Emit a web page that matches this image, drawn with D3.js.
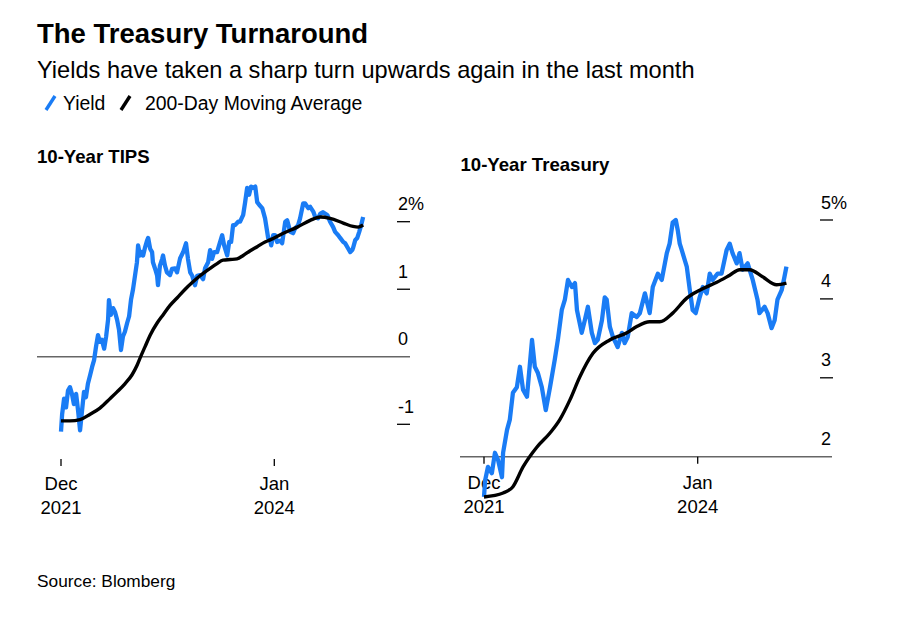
<!DOCTYPE html>
<html><head><meta charset="utf-8">
<script src="https://cdn.jsdelivr.net/npm/d3@7"></script>
<style>
body{margin:0;background:#fff;}
text{font-family:"Liberation Sans",Arial,Helvetica,sans-serif;fill:#000;}
</style></head><body>
<svg id="c" width="900" height="617"></svg>
<script>
// ---------- DATA ----------
const chartTitle = "The Treasury Turnaround";
const chartSubtitle = "Yields have taken a sharp turn upwards again in the last month";
const legendLabels = ["Yield", "200-Day Moving Average"];
const sourceText = "Source: Blomberg";
const panelTitles = ["10-Year TIPS", "10-Year Treasury"];
const xTickDates = ["2021-12-01", "2024-01-01"];
const xTickLabels = [["Dec", "2021"], ["Jan", "2024"]];
const tipsTicks = [-1, 0, 1, 2];
const tsyTicks = [2, 3, 4, 5];

const tipsDates = ["2021-12-01","2021-12-05","2021-12-12","2021-12-19","2021-12-26","2022-01-02","2022-01-09","2022-01-16","2022-01-24","2022-01-31","2022-02-07","2022-02-14","2022-02-21","2022-02-28","2022-03-07","2022-03-15","2022-03-22","2022-03-29","2022-04-05","2022-04-12","2022-04-19","2022-04-26","2022-05-04","2022-05-11","2022-05-18","2022-05-21","2022-05-28","2022-06-05","2022-06-12","2022-06-19","2022-06-26","2022-07-03","2022-07-10","2022-07-17","2022-07-25","2022-08-01","2022-08-08","2022-08-15","2022-08-22","2022-08-29","2022-09-02","2022-09-09","2022-09-16","2022-09-20","2022-09-27","2022-10-04","2022-10-08","2022-10-15","2022-10-22","2022-10-25","2022-11-02","2022-11-09","2022-11-12","2022-11-19","2022-11-27","2022-11-30","2022-12-07","2022-12-14","2022-12-25","2023-01-01","2023-01-12","2023-01-19","2023-01-30","2023-02-10","2023-02-20","2023-02-27","2023-03-07","2023-03-14","2023-03-24","2023-04-01","2023-04-11","2023-04-22","2023-04-29","2023-05-10","2023-05-17","2023-05-24","2023-05-31","2023-06-11","2023-06-18","2023-06-29","2023-07-06","2023-07-17","2023-07-24","2023-07-31","2023-08-07","2023-08-14","2023-08-25","2023-09-01","2023-09-12","2023-09-19","2023-09-26","2023-10-03","2023-10-10","2023-10-17","2023-10-25","2023-11-01","2023-11-08","2023-11-19","2023-11-29","2023-12-10","2023-12-17","2023-12-21","2023-12-28","2024-01-04","2024-01-11","2024-01-22","2024-01-29","2024-02-09","2024-02-16","2024-02-27","2024-03-08","2024-03-15","2024-03-26","2024-04-02","2024-04-13","2024-04-20","2024-05-01","2024-05-08","2024-05-19","2024-05-26","2024-06-05","2024-06-13","2024-06-23","2024-07-08","2024-07-18","2024-07-29","2024-08-05","2024-08-16","2024-08-23","2024-09-03","2024-09-10","2024-09-21","2024-09-28","2024-10-05","2024-10-08","2024-10-16","2024-10-23","2024-10-30","2024-11-06","2024-11-13"];
const tipsYield = [-1.11,-0.85,-0.62,-0.75,-0.50,-0.45,-0.55,-0.70,-0.55,-0.80,-1.09,-0.80,-0.52,-0.60,-0.40,-0.27,-0.15,-0.05,0.15,0.32,0.22,0.25,0.12,0.30,0.55,0.84,0.62,0.72,0.66,0.55,0.40,0.10,0.30,0.37,0.50,0.60,0.85,1.00,1.20,1.40,1.65,1.50,1.55,1.50,1.62,1.72,1.76,1.60,1.55,1.40,1.30,1.20,1.06,1.35,1.45,1.50,1.35,1.25,1.21,1.30,1.31,1.25,1.46,1.55,1.68,1.45,1.25,1.20,1.06,1.20,1.21,1.15,1.31,1.40,1.58,1.45,1.55,1.55,1.65,1.80,1.65,1.50,1.70,1.70,1.95,1.95,2.00,2.00,2.10,2.29,2.50,2.40,2.52,2.50,2.52,2.29,2.25,2.20,2.05,1.76,1.73,1.65,1.80,1.80,1.70,1.72,1.68,2.00,2.02,1.85,1.83,1.90,1.95,2.05,2.27,2.27,2.20,2.22,2.15,2.07,2.05,2.12,2.14,2.10,2.00,1.92,1.85,1.80,1.76,1.70,1.68,1.60,1.55,1.58,1.61,1.73,1.76,1.85,1.95,2.07];

const tipsMaDates = ["2021-12-01","2022-01-02","2022-02-07","2022-03-15","2022-04-19","2022-05-25","2022-06-19","2022-07-17","2022-08-11","2022-08-29","2022-09-09","2022-09-27","2022-10-15","2022-11-09","2022-11-30","2022-12-25","2023-01-19","2023-02-17","2023-03-17","2023-04-11","2023-05-17","2023-06-11","2023-07-02","2023-07-27","2023-08-21","2023-09-12","2023-10-07","2023-11-01","2023-11-29","2023-12-17","2024-02-02","2024-03-23","2024-05-08","2024-06-13","2024-07-18","2024-09-03","2024-10-08","2024-10-26","2024-11-13"];
const tipsMa = [-0.95,-0.95,-0.93,-0.85,-0.76,-0.62,-0.52,-0.40,-0.27,-0.13,-0.02,0.15,0.32,0.50,0.62,0.76,0.87,1.00,1.11,1.20,1.31,1.38,1.43,1.44,1.45,1.50,1.57,1.63,1.70,1.73,1.83,1.92,2.02,2.07,2.05,1.98,1.93,1.92,1.95];

const tsyDates = ["2021-12-01","2021-12-05","2021-12-15","2021-12-29","2022-01-09","2022-01-20","2022-02-03","2022-02-07","2022-02-21","2022-03-03","2022-03-14","2022-03-28","2022-04-08","2022-04-19","2022-05-03","2022-05-21","2022-05-31","2022-06-11","2022-06-25","2022-07-09","2022-07-24","2022-08-10","2022-08-21","2022-09-04","2022-09-15","2022-09-26","2022-10-10","2022-10-21","2022-10-28","2022-11-14","2022-11-25","2022-12-06","2022-12-20","2022-12-31","2023-01-10","2023-01-25","2023-02-04","2023-02-11","2023-02-22","2023-03-05","2023-03-22","2023-04-06","2023-04-16","2023-04-27","2023-05-11","2023-05-29","2023-06-09","2023-06-27","2023-07-14","2023-07-25","2023-08-12","2023-08-26","2023-09-13","2023-09-23","2023-10-04","2023-10-15","2023-10-22","2023-10-29","2023-11-05","2023-11-23","2023-12-04","2023-12-14","2023-12-25","2024-01-08","2024-01-19","2024-02-02","2024-02-13","2024-02-23","2024-03-12","2024-03-26","2024-04-13","2024-04-24","2024-05-04","2024-05-19","2024-05-29","2024-06-09","2024-06-27","2024-07-15","2024-08-01","2024-08-08","2024-08-26","2024-09-06","2024-09-20","2024-10-01","2024-10-11","2024-10-26","2024-11-05","2024-11-12"];
const tsyYield = [1.49,1.70,1.87,1.79,2.05,1.96,1.74,2.05,2.34,2.47,2.81,2.88,3.14,2.85,2.76,3.48,3.14,3.06,2.88,2.59,2.88,3.23,3.48,3.86,3.99,4.24,4.15,4.20,3.86,3.57,3.73,3.90,3.57,3.44,3.48,3.73,4.02,3.99,3.65,3.52,3.39,3.57,3.44,3.52,3.82,3.77,3.82,4.07,3.82,4.15,4.32,4.24,4.58,4.70,4.97,5.00,4.87,4.70,4.62,4.41,4.11,3.86,3.82,4.02,4.15,4.07,4.32,4.24,4.32,4.32,4.62,4.70,4.58,4.45,4.58,4.37,4.45,4.24,3.99,3.82,3.90,3.82,3.63,3.73,3.99,4.11,4.28,4.41];

const tsyMaDates = ["2021-12-01","2022-02-07","2022-03-14","2022-04-19","2022-06-07","2022-07-24","2022-08-28","2022-10-03","2022-11-07","2022-12-24","2023-02-22","2023-04-24","2023-05-29","2023-07-14","2023-08-19","2023-10-04","2023-11-23","2024-01-08","2024-03-09","2024-04-24","2024-05-29","2024-07-04","2024-08-19","2024-10-08","2024-11-12"];
const tsyMa = [1.49,1.54,1.62,1.87,2.12,2.30,2.47,2.72,3.01,3.31,3.48,3.57,3.65,3.71,3.71,3.82,4.01,4.11,4.21,4.30,4.37,4.37,4.28,4.18,4.20];

// ---------- DRAW ----------
const BLUE = "#1a7cf5", GREY = "#666";
const parse = d3.timeParse("%Y-%m-%d");
const svg = d3.select("#c");

svg.append("text").attr("x", 37).attr("y", 43).attr("font-size", 27.5).attr("font-weight", "bold").text(chartTitle);
svg.append("text").attr("x", 37).attr("y", 78).attr("font-size", 23.6).text(chartSubtitle);

// legend
const legendColors = [BLUE, "#000"];
const legendX = [46, 121];
const legendTextX = [63, 145];
legendLabels.forEach((lab, i) => {
  svg.append("line").attr("x1", legendX[i]).attr("y1", 110).attr("x2", legendX[i] + 9).attr("y2", 96)
    .attr("stroke", legendColors[i]).attr("stroke-width", 3.4);
  svg.append("text").attr("x", legendTextX[i]).attr("y", 110).attr("font-size", 19.4).text(lab);
});

svg.append("text").attr("x", 37).attr("y", 587).attr("font-size", 17.3).text(sourceText);

const panels = [
  { title: panelTitles[0], tx: 37, ty: 163, xr: [61, 274.3], ticks: tipsTicks, ydom: [-1, 2], yr: [424.3, 221.7],
    base: 0, lineX: [37, 410], dashX: 397, labX: 398, axisY: 459, labY: [490, 514],
    yd: tipsDates, yv: tipsYield, md: tipsMaDates, mv: tipsMa },
  { title: panelTitles[1], tx: 460.5, ty: 171, xr: [484, 697.7], ticks: tsyTicks, ydom: [2, 5], yr: [456.7, 220],
    base: 2, lineX: [460, 832], dashX: 820, labX: 821, axisY: 456.7, labY: [489, 513],
    yd: tsyDates, yv: tsyYield, md: tsyMaDates, mv: tsyMa }
];

panels.forEach(p => {
  const g = svg.append("g");
  const x = d3.scaleTime().domain(xTickDates.map(parse)).range(p.xr);
  const y = d3.scaleLinear().domain(p.ydom).range(p.yr);

  g.append("text").attr("x", p.tx).attr("y", p.ty).attr("font-size", 18.6).attr("font-weight", "bold")
    .text(p.title);

  // baseline
  g.append("line").attr("x1", p.lineX[0]).attr("x2", p.lineX[1]).attr("y1", y(p.base)).attr("y2", y(p.base))
    .attr("stroke", GREY).attr("stroke-width", 1.5);

  // y ticks
  p.ticks.forEach((t, i) => {
    const yy = y(t);
    if (t !== p.base) {
      g.append("line").attr("x1", p.dashX).attr("x2", p.dashX + 13).attr("y1", yy).attr("y2", yy)
        .attr("stroke", "#000").attr("stroke-width", 1.3);
    }
    const lab = (i === p.ticks.length - 1) ? t + "%" : String(t);
    g.append("text").attr("x", p.labX).attr("y", yy - 11.5).attr("font-size", 18).text(lab);
  });

  // x ticks
  xTickDates.forEach((d, i) => {
    const xx = x(parse(d));
    g.append("line").attr("x1", xx).attr("x2", xx).attr("y1", p.axisY).attr("y2", p.axisY + 7)
      .attr("stroke", "#000").attr("stroke-width", 1.3);
    const t = g.append("text").attr("text-anchor", "middle").attr("font-size", 18.5);
    xTickLabels[i].forEach((s, k) => t.append("tspan").attr("x", xx).attr("y", p.labY[k]).text(s));
  });

  const yieldData = p.yd.map((d, i) => ({ d: parse(d), v: p.yv[i] }));
  const maData = p.md.map((d, i) => ({ d: parse(d), v: p.mv[i] }));

  g.append("path").datum(yieldData)
    .attr("d", d3.line().x(d => x(d.d)).y(d => y(d.v)))
    .attr("fill", "none").attr("stroke", BLUE).attr("stroke-width", 4.3).attr("stroke-linejoin", "round");
  g.append("path").datum(maData)
    .attr("d", d3.line().curve(d3.curveMonotoneX).x(d => x(d.d)).y(d => y(d.v)))
    .attr("fill", "none").attr("stroke", "#000").attr("stroke-width", 3.4).attr("stroke-linejoin", "round");
});
</script></body></html>
